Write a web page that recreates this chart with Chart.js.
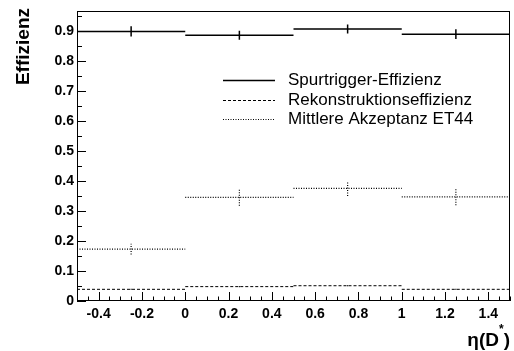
<!DOCTYPE html>
<html>
<head>
<meta charset="utf-8">
<script src="https://cdn.jsdelivr.net/npm/chart.js@4/dist/chart.umd.min.js"></script>
<style>
  html, body { margin: 0; padding: 0; background: #ffffff; }
  #wrap { width: 514px; height: 351px; }
</style>
</head>
<body>
<div id="wrap"><canvas id="c" width="514" height="351"></canvas></div>
<script>
// Bin edges in eta(D*) and the per-bin values with their uncertainties
const binEdges = [-0.5, 0, 0.5, 1, 1.5];
const spurEff  = [0.900, 0.887, 0.908, 0.891];
const spurErr  = [0.017, 0.015, 0.015, 0.016];
const rekoEff  = [0.039, 0.048, 0.051, 0.039];
const rekoErr  = [0.002, 0.002, 0.002, 0.002];
const akzEff   = [0.173, 0.346, 0.376, 0.348];
const akzErr   = [0.018, 0.028, 0.025, 0.028];

const seriesNames = ['Spurtrigger-Effizienz', 'Rekonstruktionseffizienz', 'Mittlere Akzeptanz ET44'];

// Axis tick values with labels
const xTickLabels = [-0.4, -0.2, 0, 0.2, 0.4, 0.6, 0.8, 1, 1.2, 1.4];
const yTickLabels = [0, 0.1, 0.2, 0.3, 0.4, 0.5, 0.6, 0.7, 0.8, 0.9];

const FONT = '"Liberation Sans", Arial, Helvetica, sans-serif';

// Horizontal segment per bin, broken between bins
function binSegments(vals) {
  const pts = [];
  vals.forEach((v, i) => {
    pts.push({ x: binEdges[i], y: v });
    pts.push({ x: binEdges[i + 1], y: v });
    pts.push({ x: binEdges[i + 1], y: null });
  });
  return pts;
}
// Vertical error bar at each bin centre
function errorBars(vals, errs) {
  const pts = [];
  vals.forEach((v, i) => {
    const c = (binEdges[i] + binEdges[i + 1]) / 2;
    pts.push({ x: c, y: v - errs[i] });
    pts.push({ x: c, y: v + errs[i] });
    pts.push({ x: c, y: null });
  });
  return pts;
}

const styles = [
  { width: 1.5, dash: [], color: '#000000' },
  { width: 1, dash: [3, 2], color: '#000000' },
  { width: 1.2, dash: [1, 1.5], color: '#000000' }
];

function lineSet(label, data, st, inLegend) {
  return {
    label: label,
    data: data,
    showLine: true,
    spanGaps: false,
    pointRadius: 0,
    pointHoverRadius: 0,
    borderColor: st.color,
    borderWidth: st.width,
    borderDash: st.dash,
    borderCapStyle: 'butt',
    fill: false,
    tension: 0,
    inLegend: inLegend,
    styleRef: st
  };
}

const datasets = [
  lineSet(seriesNames[0], binSegments(spurEff), styles[0], true),
  lineSet(seriesNames[0] + ' err', errorBars(spurEff, spurErr), styles[0], false),
  lineSet(seriesNames[1], binSegments(rekoEff), styles[1], true),
  lineSet(seriesNames[1] + ' err', errorBars(rekoEff, rekoErr), styles[1], false),
  lineSet(seriesNames[2], binSegments(akzEff), styles[2], true),
  lineSet(seriesNames[2] + ' err', errorBars(akzEff, akzErr), styles[2], false)
];

// Frame, inward ticks, axis titles and legend
const framePlugin = {
  id: 'frame',
  afterDraw(chart) {
    const ctx = chart.ctx;
    const a = chart.chartArea;
    const xs = chart.scales.x, ys = chart.scales.y;
    ctx.save();
    ctx.strokeStyle = '#000';
    ctx.lineWidth = 1;
    ctx.setLineDash([]);
    ctx.strokeRect(Math.round(a.left) + 0.5, Math.round(a.top) + 0.5,
                   Math.round(a.right - a.left) - 1, Math.round(a.bottom - a.top) - 1);

    // y ticks every 0.05, long at each 0.1
    ctx.beginPath();
    for (let k = 0; k * 0.05 <= ys.max + 1e-9; k++) {
      const py = Math.round(ys.getPixelForValue(k * 0.05)) + 0.5;
      const len = (k % 2 === 0) ? 9 : 5;
      ctx.moveTo(a.left, py);
      ctx.lineTo(a.left + len, py);
    }
    // x ticks every 0.05, long at each 0.2
    for (let k = 0; k <= 40; k++) {
      const v = xs.min + k * 0.05;
      const px = Math.round(xs.getPixelForValue(v)) + 0.5;
      const len = (k % 4 === 2) ? 9 : 4.5;
      ctx.moveTo(px, a.bottom);
      ctx.lineTo(px, a.bottom - len);
    }
    ctx.stroke();

    // y-axis title
    ctx.fillStyle = '#000';
    ctx.font = 'bold 19px ' + FONT;
    ctx.save();
    ctx.translate(24, 8);
    ctx.rotate(-Math.PI / 2);
    ctx.textAlign = 'right';
    ctx.textBaseline = 'middle';
    ctx.fillText('Effizienz', 0, 0);
    ctx.restore();

    // x-axis title eta(D*)
    ctx.textAlign = 'left';
    ctx.textBaseline = 'alphabetic';
    const big = 'bold 19px ' + FONT, small = 'bold 12px ' + FONT;
    ctx.font = big;
    const w1 = ctx.measureText('η(D').width;
    const w3 = ctx.measureText(')').width;
    ctx.font = small;
    const w2 = ctx.measureText('*').width;
    let x0 = 510 - (w1 + w2 + w3);
    const base = 346;
    ctx.font = big;
    ctx.fillText('η(D', x0, base);
    ctx.font = small;
    ctx.fillText('*', x0 + w1, base - 13);
    ctx.font = big;
    ctx.fillText(')', x0 + w1 + w2, base);

    // legend
    ctx.font = '17px ' + FONT;
    ctx.textBaseline = 'middle';
    const rows = chart.data.datasets.filter(d => d.inLegend);
    rows.forEach((d, i) => {
      const y = Math.round(80 + i * 19.5) + 0.5;
      const st = d.styleRef;
      ctx.strokeStyle = st.color;
      ctx.lineWidth = st.width;
      ctx.setLineDash(st.dash);
      ctx.beginPath();
      ctx.moveTo(223, y);
      ctx.lineTo(275, y);
      ctx.stroke();
      ctx.fillStyle = '#000';
      ctx.fillText(d.label, 288, y);
    });
    ctx.restore();
  }
};

new Chart(document.getElementById('c'), {
  type: 'scatter',
  data: { datasets: datasets },
  options: {
    responsive: false,
    animation: false,
    events: [],
    layout: { padding: { top: 9, right: 4, left: 0, bottom: 0 } },
    plugins: { legend: { display: false }, tooltip: { enabled: false } },
    scales: {
      x: {
        type: 'linear',
        min: -0.5,
        max: 1.5,
        afterBuildTicks: s => { s.ticks = xTickLabels.map(v => ({ value: v })); },
        afterFit: s => { s.height = 50; },
        grid: { display: false, drawTicks: false },
        border: { display: false },
        ticks: {
          autoSkip: false,
          maxRotation: 0,
          padding: 5,
          color: '#000',
          font: { family: FONT, size: 14, weight: 'bold' },
          callback: v => String(Math.round(v * 10) / 10)
        }
      },
      y: {
        type: 'linear',
        min: 0,
        max: 0.967,
        afterBuildTicks: s => { s.ticks = yTickLabels.map(v => ({ value: v })); },
        afterFit: s => { s.width = 77; },
        grid: { display: false, drawTicks: false },
        border: { display: false },
        ticks: {
          autoSkip: false,
          padding: 3,
          color: '#000',
          font: { family: FONT, size: 14, weight: 'bold' },
          callback: v => String(Math.round(v * 10) / 10)
        }
      }
    }
  },
  plugins: [framePlugin]
});
</script>
</body>
</html>
